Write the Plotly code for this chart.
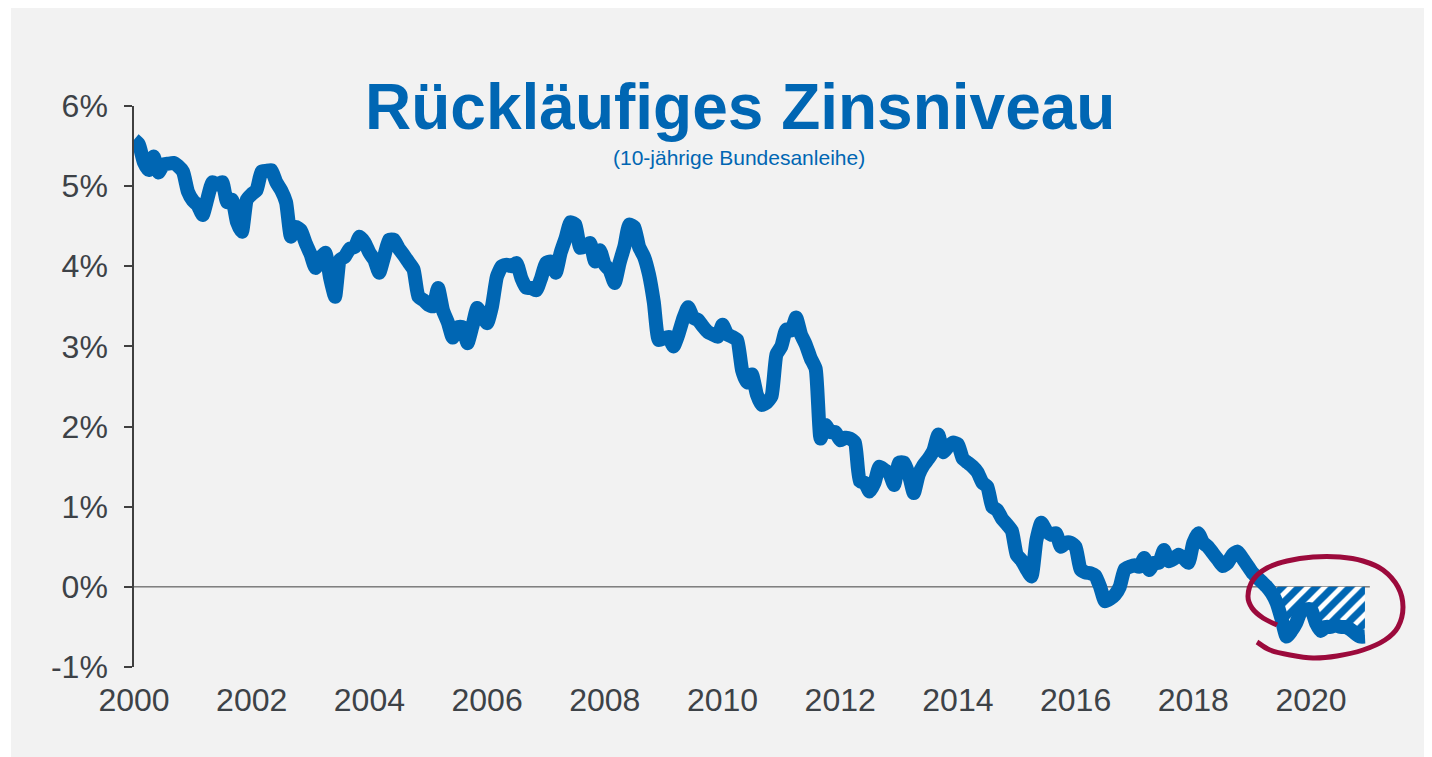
import plotly.graph_objects as go

# ---------------- data (monthly average yield of 10y Bund, %) ----------------
years = list(range(2000, 2021))
y2000 = [5.58, 5.52, 5.30, 5.20, 5.37, 5.17, 5.27, 5.28, 5.29, 5.25, 5.18, 4.93]
y2001 = [4.82, 4.76, 4.64, 4.85, 5.05, 5.02, 5.05, 4.80, 4.83, 4.55, 4.43, 4.83]
y2002 = [4.90, 4.95, 5.18, 5.19, 5.20, 5.05, 4.95, 4.80, 4.37, 4.49, 4.45, 4.29]
y2003 = [4.15, 3.98, 4.10, 4.17, 3.85, 3.62, 4.08, 4.12, 4.22, 4.24, 4.37, 4.30]
y2004 = [4.17, 4.08, 3.92, 4.12, 4.33, 4.33, 4.22, 4.14, 4.05, 3.96, 3.62, 3.58]
y2005 = [3.52, 3.50, 3.73, 3.45, 3.30, 3.11, 3.24, 3.24, 3.04, 3.25, 3.48, 3.38]
y2006 = [3.29, 3.50, 3.87, 4.00, 4.02, 4.00, 4.04, 3.85, 3.73, 3.73, 3.70, 3.85]
y2007 = [4.04, 4.06, 3.92, 4.17, 4.35, 4.55, 4.52, 4.23, 4.25, 4.29, 4.06, 4.20]
y2008 = [4.02, 3.95, 3.79, 4.04, 4.25, 4.52, 4.49, 4.24, 4.12, 3.90, 3.55, 3.08]
y2009 = [3.10, 3.12, 3.00, 3.15, 3.35, 3.49, 3.36, 3.33, 3.25, 3.18, 3.15, 3.12]
y2010 = [3.27, 3.15, 3.12, 3.08, 2.70, 2.55, 2.65, 2.40, 2.27, 2.30, 2.38, 2.90]
y2011 = [3.00, 3.21, 3.20, 3.36, 3.15, 3.02, 2.85, 2.72, 1.85, 2.02, 1.93, 1.93]
y2012 = [1.83, 1.86, 1.85, 1.80, 1.32, 1.30, 1.19, 1.30, 1.50, 1.46, 1.42, 1.27]
y2013 = [1.55, 1.55, 1.40, 1.17, 1.40, 1.52, 1.60, 1.70, 1.90, 1.68, 1.75, 1.80]
y2014 = [1.78, 1.60, 1.55, 1.50, 1.43, 1.30, 1.25, 1.00, 0.96, 0.85, 0.78, 0.70]
y2015 = [0.40, 0.33, 0.22, 0.13, 0.58, 0.80, 0.70, 0.65, 0.67, 0.50, 0.55, 0.55]
y2016 = [0.50, 0.22, 0.18, 0.17, 0.14, 0.00, -0.18, -0.15, -0.10, 0.00, 0.22, 0.25]
y2017 = [0.27, 0.25, 0.36, 0.21, 0.30, 0.30, 0.46, 0.32, 0.35, 0.40, 0.36, 0.30]
y2018 = [0.55, 0.67, 0.55, 0.50, 0.42, 0.34, 0.26, 0.30, 0.40, 0.44, 0.36, 0.27]
y2019 = [0.18, 0.12, 0.06, 0.00, -0.08, -0.20, -0.40, -0.62, -0.55, -0.45, -0.30, -0.28]
y2020 = [-0.28, -0.45, -0.55, -0.50, -0.50, -0.48, -0.50, -0.50, -0.53, -0.58, -0.62, -0.62]

yearly = [y2000, y2001, y2002, y2003, y2004, y2005, y2006, y2007, y2008, y2009,
          y2010, y2011, y2012, y2013, y2014, y2015, y2016, y2017, y2018, y2019, y2020]

x_tick_vals = [2000, 2002, 2004, 2006, 2008, 2010, 2012, 2014, 2016, 2018, 2020]
x_tick_text = ["2000", "2002", "2004", "2006", "2008", "2010", "2012", "2014", "2016", "2018", "2020"]
y_tick_vals = [-1, 0, 1, 2, 3, 4, 5, 6]
y_tick_text = ["-1%", "0%", "1%", "2%", "3%", "4%", "5%", "6%"]

title_text = "Rückläufiges Zinsniveau"
subtitle_text = "(10-jährige Bundesanleihe)"
negative_start = 2019 + 5 / 12  # hatched negative-yield zone starts (Jun 2019)

# ---------------- build series ----------------
dates = []
values = []
for yr, vals in zip(years, yearly):
    for m, v in enumerate(vals):
        dates.append(yr + m / 12)
        values.append(v)

neg_x = [d for d in dates if d >= negative_start - 1e-9]
neg_y = [min(v, 0) for d, v in zip(dates, values) if d >= negative_start - 1e-9]

# ---------------- layout geometry ----------------
PAGE_OFFSET = 8            # default body margin of the html page
WIDTH, HEIGHT = 1424, 749  # figure size (page is 1432x757)
# plot area in screen pixels
SX0, SX1, SY0, SY1 = 134, 1420, 106, 667
L = SX0 - PAGE_OFFSET
R = WIDTH - (SX1 - PAGE_OFFSET)
T = SY0 - PAGE_OFFSET
B = HEIGHT - (SY1 - PAGE_OFFSET)
PLOT_W = WIDTH - L - R
PLOT_H = HEIGHT - T - B
PX_PER_YEAR = 58.85
x_end = 2000 + PLOT_W / PX_PER_YEAR


def px_to_paper(px, py):
    """screen pixel -> paper coordinates"""
    return (px - SX0) / PLOT_W, (SY1 - py) / PLOT_H


BLUE = "#0066b3"
AXIS = "#404040"
LABEL = "#3d4247"
FONT = "Liberation Sans, Arial, sans-serif"

fig = go.Figure()

fig.add_trace(go.Scatter(
    x=neg_x, y=neg_y, mode="lines", line=dict(width=0, color=BLUE),
    fill="tozeroy", fillcolor="white",
    fillpattern=dict(shape="/", fgcolor=BLUE, bgcolor="white", fgopacity=1,
                     size=12, solidity=0.6),
    hoverinfo="skip",
))

fig.add_trace(go.Scatter(
    x=dates, y=values, mode="lines",
    line=dict(color=BLUE, width=14, shape="spline", smoothing=0.5),
))

shapes = []
# white outer frame (left strip)
x0p, _ = px_to_paper(PAGE_OFFSET, 0)
x1p, _ = px_to_paper(11, 0)
shapes.append(dict(type="rect", xref="paper", yref="paper", x0=x0p, x1=x1p, y0=-1, y1=2,
                   fillcolor="white", line=dict(width=0), layer="below"))
# zero line
shapes.append(dict(type="line", xref="x", yref="y", x0=2000, x1=2021.0, y0=0, y1=0,
                   line=dict(color=AXIS, width=1), layer="below"))

# hand-drawn red loop (screen pixel path points)
loop_px = [(1277, 625), (1263, 618), (1252, 608), (1248, 596), (1253, 580), (1267, 568),
           (1287, 561), (1313, 557), (1340, 557), (1363, 561), (1383, 570), (1398, 587),
           (1403, 607), (1398, 627), (1385, 640), (1363, 650), (1337, 656), (1313, 658),
           (1290, 655), (1270, 650), (1257, 642)]
pts = [px_to_paper(px, py) for px, py in loop_px]
path = "M {:.5f},{:.5f}".format(*pts[0])
for i in range(len(pts) - 1):
    p0 = pts[i - 1] if i > 0 else pts[i]
    p1 = pts[i]
    p2 = pts[i + 1]
    p3 = pts[i + 2] if i + 2 < len(pts) else pts[i + 1]
    c1 = (p1[0] + (p2[0] - p0[0]) / 6, p1[1] + (p2[1] - p0[1]) / 6)
    c2 = (p2[0] - (p3[0] - p1[0]) / 6, p2[1] - (p3[1] - p1[1]) / 6)
    path += " C {:.5f},{:.5f} {:.5f},{:.5f} {:.5f},{:.5f}".format(c1[0], c1[1], c2[0], c2[1], p2[0], p2[1])
shapes.append(dict(type="path", xref="paper", yref="paper", path=path,
                   line=dict(color="#9c0a3c", width=5), layer="above"))

tx, ty = px_to_paper(740, 107)
sx, sy = px_to_paper(739, 157)
annotations = [
    dict(text="<b>" + title_text + "</b>", xref="paper", yref="paper", x=tx, y=ty,
         xanchor="center", yanchor="middle", showarrow=False,
         font=dict(family=FONT, size=64, color=BLUE)),
    dict(text=subtitle_text, xref="paper", yref="paper", x=sx, y=sy,
         xanchor="center", yanchor="middle", showarrow=False,
         font=dict(family=FONT, size=21, color=BLUE)),
]

fig.update_layout(
    width=WIDTH, height=HEIGHT,
    margin=dict(l=L, r=R, t=T, b=B, pad=0),
    paper_bgcolor="#f2f2f2", plot_bgcolor="rgba(0,0,0,0)",
    showlegend=False,
    shapes=shapes, annotations=annotations,
    xaxis=dict(range=[2000, x_end], tickvals=x_tick_vals, ticktext=x_tick_text,
               showgrid=False, zeroline=False, showline=False, ticks="",
               tickfont=dict(family=FONT, size=32, color=LABEL), ticklabelstandoff=11),
    yaxis=dict(range=[-1, 6], tickvals=y_tick_vals, ticktext=y_tick_text,
               showgrid=False, zeroline=False, showline=True, linecolor=AXIS, linewidth=1.5,
               ticks="outside", ticklen=8, tickwidth=1.5, tickcolor=AXIS,
               tickfont=dict(family=FONT, size=32, color=LABEL), ticklabelstandoff=10),
)

fig.write_html("out.html")
